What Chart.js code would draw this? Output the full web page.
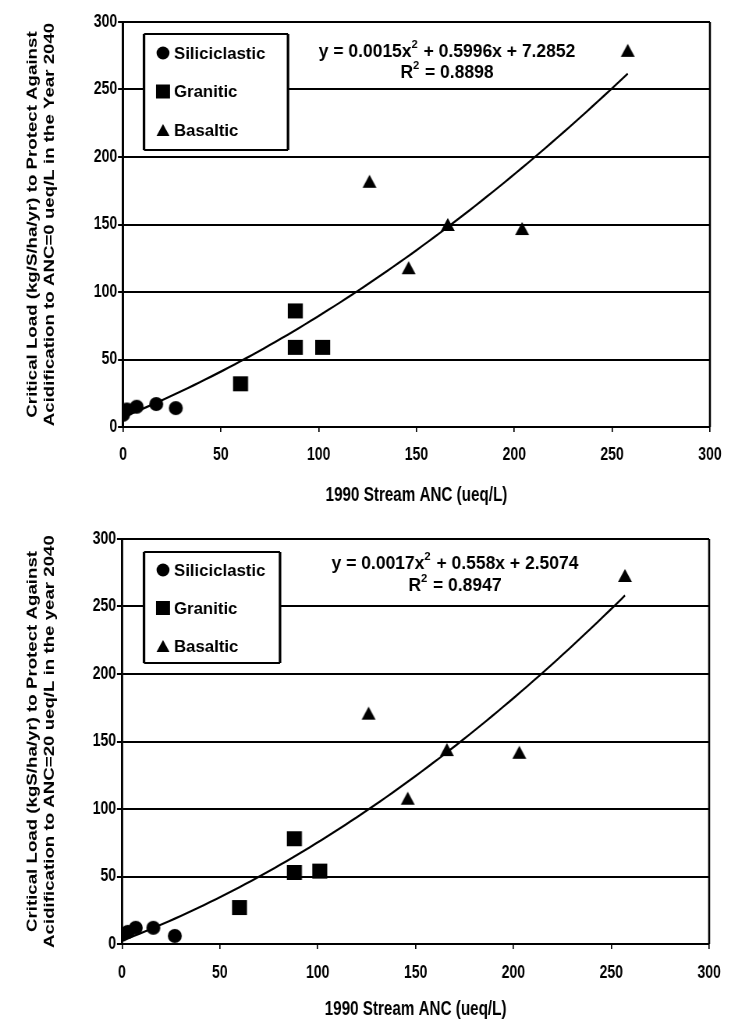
<!DOCTYPE html>
<html>
<head>
<meta charset="utf-8">
<script src="https://cdn.jsdelivr.net/npm/chart.js@4.4.0/dist/chart.umd.min.js"></script>
<style>
  body { margin: 0; background: #fff; overflow: hidden; }
  .panel { position: absolute; left: 0; transform-origin: 0 0; }
  #panel-top { top: 0; height: 505px; }
  #panel-bottom { top: 505px; height: 514px; }
</style>
</head>
<body>
<div class="panel" id="panel-top"><canvas id="graph-anc0"></canvas></div>
<div class="panel" id="panel-bottom"><canvas id="graph-anc20"></canvas></div>
<script>
const rockTypes = ['Siliciclastic', 'Granitic', 'Basaltic'];
const axisTicks = [0, 50, 100, 150, 200, 250, 300];
const xTitle = '1990 Stream ANC (ueq/L)';

// ANC = 0 target
const siliX0 = [0, 2, 7, 17, 27];
const siliY0 = [9, 13, 15, 17, 14];
const granX0 = [60, 88, 88, 102];
const granY0 = [32, 86, 59, 59];
const basaX0 = [126, 146, 166, 204, 258];
const basaY0 = [182, 118, 150, 147, 279];
const fit0 = [0.0015, 0.5996, 7.2852];
const fitLabel0 = ['0.0015', '0.5996', '7.2852'];
const r2Label0 = '0.8898';
const yTitle0 = ['Critical Load (kg/S/ha/yr) to Protect Against', 'Acidification to ANC=0 ueq/L in the Year 2040'];

// ANC = 20 target
const siliX20 = [0, 3, 7, 16, 27];
const siliY20 = [7, 9, 12, 12, 6];
const granX20 = [60, 88, 88, 101];
const granY20 = [27, 78, 53, 54];
const basaX20 = [126, 146, 166, 203, 257];
const basaY20 = [171, 108, 144, 142, 273];
const fit20 = [0.0017, 0.558, 2.5074];
const fitLabel20 = ['0.0017', '0.558', '2.5074'];
const r2Label20 = '0.8947';
const yTitle20 = ['Critical Load (kgS/ha/yr) to Protect Against', 'Acidification to ANC=20 ueq/L in the year 2040'];

const FONT = "'Liberation Sans', Arial, sans-serif";
const WEIGHT = 'bold';

// the axes are drawn wide and squeezed sideways, like the old printed figure;
// legend and equation text are drawn un-squeezed
const PAGE_W = 731;
const PANEL_W = 937;
const SX = PAGE_W / PANEL_W;

for(const id of ['panel-top', 'panel-bottom']){
    const el = document.getElementById(id);
    el.style.width = PANEL_W + 'px';
    el.style.transform = 'scaleX(' + SX + ')';
}

function DrawShape(g, kind, cx, cy, w, h){
    g.beginPath();
    if(kind === 'circle')
        g.ellipse(cx, cy, w / 2, h / 2, 0, 0, Math.PI * 2);
    else if(kind === 'rect')
        g.rect(cx - w / 2, cy - h / 2, w, h);
    else {
        g.moveTo(cx, cy - h / 2);
        g.lineTo(cx + w / 2, cy + h / 2);
        g.lineTo(cx - w / 2, cy + h / 2);
        g.closePath();
    }
    g.fill();
}

// marker sprites, pre-widened so they come out right after the squeeze
function MakeMarker(kind, w, h){
    const c = document.createElement('canvas');
    c.width = Math.round(w / SX) + 2;
    c.height = h + 2;
    const g = c.getContext('2d');
    g.fillStyle = '#000';
    g.scale(1 / SX, 1);
    DrawShape(g, kind, (w / 2 + 1 * SX), h / 2 + 1, w, h);
    return c;
}

const shapeKinds = ['circle', 'rect', 'triangle'];
const shapeSizes = [[14, 14], [15, 15], [14, 13]];
const legendSizes = [[13, 13], [14, 14], [13, 12]];
const markers = shapeKinds.map((k, i) => MakeMarker(k, shapeSizes[i][0], shapeSizes[i][1]));

function ToPoints(xs, ys){
    let pts = [];
    for(let i = 0; i < xs.length; i++)
        pts.push({x: xs[i], y: ys[i]});
    return pts;
}

// polynomial trendline over the range of the data
function TrendPoints(coef, xMin, xMax){
    let pts = [];
    for(let x = xMin; x < xMax; x += 3)
        pts.push({x: x, y: coef[0]*x*x + coef[1]*x + coef[2]});
    pts.push({x: xMax, y: coef[0]*xMax*xMax + coef[1]*xMax + coef[2]});
    return pts;
}

function TextWithSup(ctx, size, before, after, cx, y){
    const main = WEIGHT + ' ' + size + 'px ' + FONT;
    const sup = WEIGHT + ' ' + Math.round(size * 0.65) + 'px ' + FONT;
    ctx.font = main;
    const w1 = ctx.measureText(before).width;
    const w3 = ctx.measureText(after).width;
    ctx.font = sup;
    const w2 = ctx.measureText('2').width + 1;
    const x0 = cx - (w1 + w2 + w3) / 2;
    ctx.fillText('2', x0 + w1, y - size * 0.4);
    ctx.font = main;
    ctx.fillText(before, x0, y);
    ctx.fillText(after, x0 + w1 + w2, y);
}

function Stroke(ctx, segs, width){
    ctx.lineWidth = width;
    ctx.beginPath();
    for(const s of segs){
        ctx.moveTo(s[0], s[1]);
        ctx.lineTo(s[2], s[3]);
    }
    ctx.stroke();
}

const framePlugin = {
    id: 'frame',
    afterDraw(chart, args, opts){
        const ctx = chart.ctx;
        const a = chart.chartArea;
        ctx.save();
        ctx.strokeStyle = '#000';

        // plot border: vertical sides heavier to survive the squeeze
        Stroke(ctx, [[a.left, a.top, a.right, a.top], [a.left, a.bottom, a.right, a.bottom]], 2);
        Stroke(ctx, [[a.left, a.top, a.left, a.bottom], [a.right, a.top, a.right, a.bottom]], 2 / SX);

        // from here on work in page pixels, un-squeezed
        ctx.scale(1 / SX, 1);
        const left = a.left * SX;
        const bx = left + opts.box[0], by = a.top + opts.box[1];
        const bw = opts.box[2], bh = opts.box[3];
        ctx.fillStyle = '#fff';
        ctx.fillRect(bx, by, bw, bh);
        Stroke(ctx, [[bx, by, bx + bw, by], [bx, by + bh, bx + bw, by + bh]], 2);
        Stroke(ctx, [[bx, by, bx, by + bh], [bx + bw, by, bx + bw, by + bh]], 2 / SX);

        ctx.fillStyle = '#000';
        ctx.font = WEIGHT + ' ' + opts.legendSize + 'px ' + FONT;
        ctx.textBaseline = 'middle';
        ctx.textAlign = 'left';
        for(let i = 0; i < rockTypes.length; i++){
            const y = by + opts.rowTop + i * opts.rowGap;
            DrawShape(ctx, shapeKinds[i], bx + opts.markX, y, legendSizes[i][0], legendSizes[i][1]);
            ctx.fillText(rockTypes[i], bx + opts.textX, y + 1);
        }

        // trendline equation
        const ey = a.top + opts.eqY;
        TextWithSup(ctx, opts.eqSize, 'y = ' + opts.coef[0] + 'x', ' + ' + opts.coef[1] + 'x + ' + opts.coef[2], opts.eqX, ey);
        TextWithSup(ctx, opts.eqSize, 'R', ' = ' + opts.r2, opts.eqX, ey + opts.r2Gap);
        ctx.restore();
    }
};

function CreatePanel(canva, series, coef, yTitle, geo){
    let ctx = document.getElementById(canva);
    let sets = [];
    for(let i = 0; i < series.length; i++){
        sets.push({
            type: 'scatter',
            label: rockTypes[i],
            data: ToPoints(series[i][0], series[i][1]),
            pointStyle: markers[i],
            backgroundColor: '#000',
            borderWidth: 0
        });
    }
    let allX = [].concat(series[0][0], series[1][0], series[2][0]);
    sets.push({
        type: 'line',
        label: 'Poly. fit',
        data: TrendPoints(coef, Math.min(...allX), Math.max(...allX)),
        borderColor: '#000',
        borderWidth: 2.2,
        pointRadius: 0,
        tension: 0,
        order: 5
    });

    const tickFont = {family: FONT, size: 18, weight: WEIGHT};

    return new Chart(ctx, {
        type: 'scatter',
        data: {datasets: sets},
        options: {
            responsive: true,
            maintainAspectRatio: false,
            animation: false,
            layout: {padding: {top: geo.top, right: PANEL_W - geo.right / SX, left: 0, bottom: 0}},
            plugins: {
                legend: {display: false},
                tooltip: {enabled: false},
                frame: geo.frame
            },
            scales: {
                x: {
                    type: 'linear', min: 0, max: 300,
                    afterBuildTicks: (s) => { s.ticks = axisTicks.map(v => ({value: v})); },
                    afterFit: (s) => { s.height = geo.xHeight; },
                    ticks: {color: '#000', font: tickFont, padding: geo.xTickPad, maxRotation: 0},
                    grid: {drawOnChartArea: false, drawTicks: true, tickLength: 5, color: '#000', lineWidth: 1.3 / SX},
                    border: {display: true, color: '#000', width: 2},
                    title: {display: true, text: xTitle, color: '#000', font: {family: FONT, size: 19.5, weight: WEIGHT, lineHeight: 1}, padding: {top: 0, bottom: 0}}
                },
                y: {
                    type: 'linear', min: 0, max: 300,
                    afterBuildTicks: (s) => { s.ticks = axisTicks.map(v => ({value: v})); },
                    afterFit: (s) => { s.width = geo.left / SX; },
                    ticks: {color: '#000', font: tickFont, padding: 1},
                    grid: {color: '#000', lineWidth: 2, tickLength: 6.5},
                    border: {display: true, color: '#000', width: 2 / SX},
                    title: {display: true, text: yTitle, color: '#000', font: {family: FONT, size: 18.7, weight: WEIGHT, lineHeight: 1.2}, padding: {top: 30.5, bottom: 0}}
                }
            }
        },
        plugins: [framePlugin]
    });
}

CreatePanel('graph-anc0',
    [[siliX0, siliY0], [granX0, granY0], [basaX0, basaY0]],
    fit0, yTitle0,
    {top: 22, left: 123, right: 711, xHeight: 78, xTickPad: 12,
     frame: {box: [21, 12, 144, 116], rowTop: 19, rowGap: 38.5, markX: 19, textX: 30, legendSize: 16.8,
             eqX: 447, eqY: 30, r2Gap: 21, eqSize: 17.5, coef: fitLabel0, r2: r2Label0}});

CreatePanel('graph-anc20',
    [[siliX20, siliY20], [granX20, granY20], [basaX20, basaY20]],
    fit20, yTitle20,
    {top: 34, left: 122, right: 712, xHeight: 75, xTickPad: 13,
     frame: {box: [22, 13, 136, 111], rowTop: 18, rowGap: 38, markX: 19, textX: 30, legendSize: 16.8,
             eqX: 455, eqY: 25, r2Gap: 22, eqSize: 17.5, coef: fitLabel20, r2: r2Label20}});
</script>
</body>
</html>
